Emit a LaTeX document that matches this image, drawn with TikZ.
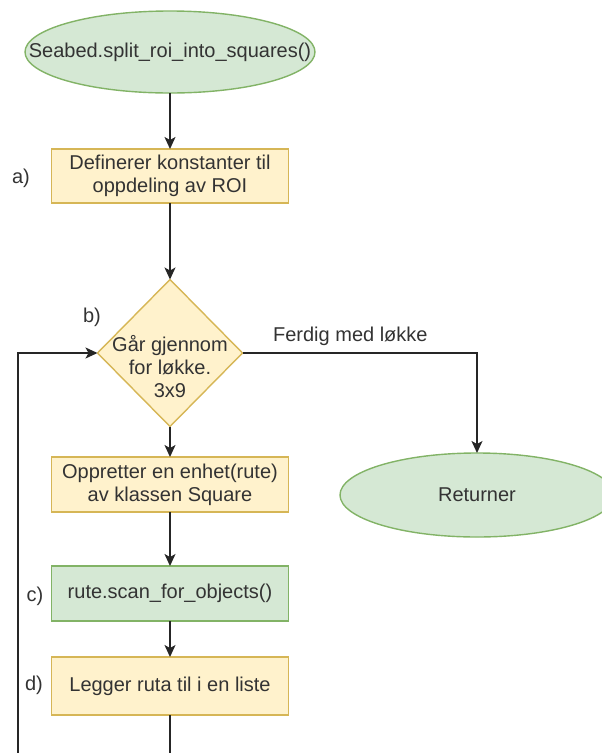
\documentclass[tikz,border=0pt]{standalone}
\usepackage{fontspec}
\setmainfont{Liberation Sans}
\usetikzlibrary{shapes.geometric, arrows.meta}
\definecolor{procfill}{HTML}{FFF2CC}
\definecolor{procline}{HTML}{D6B656}
\definecolor{termfill}{HTML}{D5E8D4}
\definecolor{termline}{HTML}{82B366}
\tikzset{
    process/.style={rectangle, fill=procfill, draw=procline, line width=1.4pt,
        minimum width=237pt, minimum height=55pt, align=center, inner sep=0pt, outer sep=0pt},
    call/.style={process, fill=termfill, draw=termline},
    terminal/.style={ellipse, fill=termfill, draw=termline, line width=1.4pt,
        inner sep=0pt, outer sep=0pt},
    decision/.style={diamond, fill=procfill, draw=procline, line width=1.4pt,
        minimum width=145pt, minimum height=147pt, inner sep=0pt, outer sep=0pt},
    flow/.style={line width=1.5pt, draw=black!85, -{Stealth[length=12pt, width=11pt, inset=3pt]}},
    plain/.style={line width=1.5pt, draw=black!85},
    common settings/.style={
        font=\fontsize{20}{23}\selectfont,
        x=1pt, y=-1pt,
        text=black!80
    }
}
\begin{document}
\begin{tikzpicture}[common settings]

    \useasboundingbox (0,0) rectangle (602,753);

    % Start and end ellipses
    \node[terminal, minimum width=290pt, minimum height=82pt] (start) at (170,52) {};
    \node (starttext) at (start.center) {Seabed.split\_roi\_into\_squares()};
    \node[terminal, minimum width=274pt, minimum height=84pt] (ret) at (477,495) {Returner};

    % Steps in the main column
    \node[process, minimum height=54pt] (consts) at (170,176) {Definerer konstanter til\\oppdeling av ROI};
    \node[decision] (loop) at (170,353) {};
    \node[align=center] (looptext) at (170,367) {Går gjennom\\for løkke.\\3x9};
    \node[process] (make) at (170,484.5) {Oppretter en enhet(rute)\\av klassen Square};
    \node[call] (scan) at (170,593.5) {rute.scan\_for\_objects()};
    \node[process, minimum height=58pt] (addlist) at (170,686) {Legger ruta til i en liste};

    % Step labels
    \node (lbla) at (21,178) {a)};
    \node (lblb) at (92,317) {b)};
    \node (lblc) at (35,596) {c)};
    \node (lbld) at (34,685) {d)};

    % Free ends at the bottom edge
    \coordinate (tail) at (170,753);
    \coordinate (back) at (18,753);

    % Connectors
    \draw[flow] (start) -- (consts);
    \draw[flow] (consts) -- (loop);
    \draw[flow] (loop) -- (make);
    \draw[flow] (make) -- (scan);
    \draw[flow] (scan) -- (addlist);
    \draw[plain] (addlist) -- (tail);
    \draw[flow] (back) |- (loop.west);
    \draw[flow] (loop.east) -| (ret.north)
        node[pos=0.23, above=3pt, text=black!80] (done) {Ferdig med løkke};

\end{tikzpicture}
\end{document}
